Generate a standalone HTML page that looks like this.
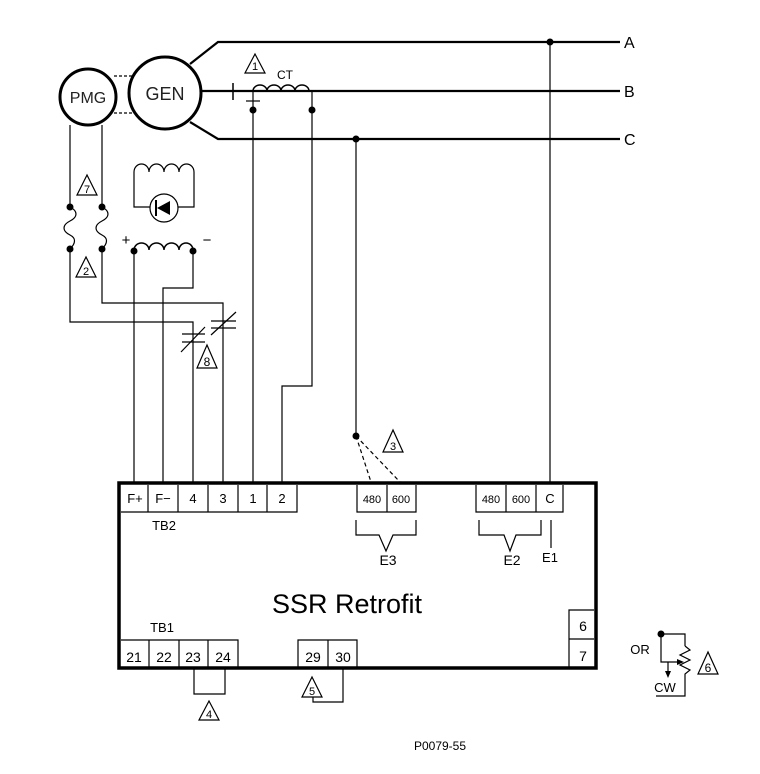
<!DOCTYPE html>
<html><head><style>html,body{margin:0;padding:0;background:#fff}svg{display:block}</style></head><body>
<svg width="760" height="774" viewBox="0 0 760 774" xmlns="http://www.w3.org/2000/svg" font-family="Liberation Sans, sans-serif">
<g fill="none" stroke="#000" stroke-width="1.2">
<polyline points="190,64 218,42 620,42" stroke-width="2.2"/>
<line x1="201" y1="91" x2="620" y2="91" stroke-width="2.2"/>
<polyline points="190,122 218,139 620,139" stroke-width="2.2"/>
<circle cx="88" cy="97" r="28" stroke-width="3"/>
<circle cx="165" cy="93" r="36" stroke-width="3"/>
<line x1="114" y1="76" x2="134" y2="76" stroke-dasharray="3,2"/>
<line x1="114" y1="113" x2="134" y2="113" stroke-dasharray="3,2"/>
<line x1="233" y1="83" x2="233" y2="100" stroke-width="1.5"/>
<path d="M253,91 a7,6 0 0 1 14,0 a7,6 0 0 1 14,0 a7,6 0 0 1 14,0 a7,6 0 0 1 14,0" stroke-width="1.5"/>
<line x1="246" y1="101" x2="260" y2="101"/>
<line x1="253" y1="91" x2="253" y2="482"/>
<polyline points="312,91 312,386 282,386 282,482"/>
<line x1="356" y1="139" x2="356" y2="436"/>
<line x1="356" y1="436" x2="371" y2="482" stroke-dasharray="4,3"/>
<line x1="356" y1="436" x2="400" y2="482" stroke-dasharray="4,3"/>
<line x1="550" y1="42" x2="550" y2="484"/>
<line x1="70" y1="125" x2="70" y2="207"/>
<line x1="102" y1="125" x2="102" y2="207"/>
<path d="M70,207 c8,4 8,10 0,14 c-8,4 -8,10 0,14 c6,3 6,8 0,14"/>
<path d="M102,207 c8,4 8,10 0,14 c-8,4 -8,10 0,14 c6,3 6,8 0,14"/>
<polyline points="70,249 70,322 193,322 193,482"/>
<polyline points="102,249 102,303 223,303 223,482"/>
<line x1="182" y1="334" x2="205" y2="334"/><line x1="182" y1="342" x2="205" y2="342"/><line x1="181" y1="352" x2="205" y2="327"/>
<line x1="211" y1="321" x2="236" y2="321"/><line x1="211" y1="328" x2="236" y2="328"/><line x1="211" y1="335" x2="236" y2="312"/>
<path d="M134,207 L134,172 a7.5,8 0 0 1 15,0 a7.5,8 0 0 1 15,0 a7.5,8 0 0 1 15,0 a7.5,8 0 0 1 15,0 L194,207 Z"/>
<circle cx="164" cy="208" r="14" fill="#fff"/>
<path d="M134,250 a7.5,7 0 0 1 15,0 a7.5,7 0 0 1 15,0 a7.5,7 0 0 1 15,0 a7,7 0 0 1 14,0" stroke-width="1.5"/>
<line x1="134" y1="250" x2="134" y2="482"/>
<polyline points="193,250 193,288 163,288 163,482"/>
<rect x="119" y="483" width="477" height="185" stroke-width="3.5"/>
<polyline points="121,512 297,512 297,485"/>
<line x1="148" y1="485" x2="148" y2="512"/><line x1="178" y1="485" x2="178" y2="512"/><line x1="208" y1="485" x2="208" y2="512"/><line x1="238" y1="485" x2="238" y2="512"/><line x1="267" y1="485" x2="267" y2="512"/>
<polyline points="357,485 357,512 416,512 416,485"/><line x1="387" y1="485" x2="387" y2="512"/>
<polyline points="356,520 356,535 379,535 386,551 393,535 416,535 416,520"/>
<polyline points="476,485 476,512 563,512 563,485"/><line x1="506" y1="485" x2="506" y2="512"/><line x1="536" y1="485" x2="536" y2="512"/>
<polyline points="479,520 479,535 504,535 510,551 516,535 541,535 541,520"/>
<line x1="551" y1="520" x2="551" y2="548"/>
<polyline points="121,640 238,640 238,667"/>
<line x1="149" y1="640" x2="149" y2="667"/><line x1="179" y1="640" x2="179" y2="667"/><line x1="208" y1="640" x2="208" y2="667"/>
<polyline points="298,667 298,640 357,640 357,667"/><line x1="328" y1="640" x2="328" y2="667"/>
<polyline points="594,610 569,610 569,667"/><line x1="569" y1="639" x2="594" y2="639"/>
<polyline points="194,669 194,694 225,694 225,669"/>
<polyline points="343,669 343,702 313,702 313,697"/>
<polyline points="661,634 685,634 685,646"/>
<path d="M685,646 l5,4 l-10,5 l10,5 l-10,5 l10,5 l-5,4 L685,696 L656,696"/>
<polyline points="661,634 661,662 678,662"/>
<line x1="668" y1="662" x2="668" y2="674"/>
<polygon points="255,54 245,73 265,73"/>
<polygon points="87,175 77,195 97,195"/>
<polygon points="86,257 76,277 96,277"/>
<polygon points="207,345 197,368 217,368"/>
<polygon points="393,430 383,452 403,452"/>
<polygon points="209,701 199,720 219,720"/>
<polygon points="312,677 302,697 322,697"/>
<polygon points="708,652 698,674 718,674"/>
</g>
<g fill="#000">
<circle cx="550" cy="42" r="3.5"/><circle cx="356" cy="139" r="3.5"/>
<circle cx="253" cy="110" r="3.5"/><circle cx="312" cy="110" r="3.5"/>
<circle cx="356" cy="436" r="3.5"/>
<circle cx="70" cy="207" r="3.5"/><circle cx="102" cy="207" r="3.5"/>
<circle cx="70" cy="249" r="3.5"/><circle cx="102" cy="249" r="3.5"/>
<circle cx="134" cy="251" r="3.5"/><circle cx="193" cy="251" r="3.5"/>
<circle cx="661" cy="634" r="3.5"/>
<polygon points="157,208 170,201 170,215"/>
<rect x="155" y="200" width="2" height="16"/>
<polygon points="684,662 677,659 677,665"/>
<polygon points="668,678 665,671 671,671"/>
</g>
<g font-size="16">
<text x="88" y="103" font-size="16" text-anchor="middle" fill="#222">PMG</text>
<text x="165" y="100" font-size="18" text-anchor="middle" fill="#222">GEN</text>
<text x="624" y="48">A</text><text x="624" y="97">B</text><text x="624" y="145">C</text>
</g>
<g font-size="12" text-anchor="middle">
<text x="285" y="79">CT</text>
<text x="255" y="70" font-size="11">1</text>
<text x="87" y="193" font-size="11">7</text>
<text x="86" y="275" font-size="11">2</text>
<text x="207" y="366" font-size="12">8</text>
<text x="393" y="450" font-size="11">3</text>
<text x="209" y="718" font-size="11">4</text>
<text x="312" y="695" font-size="11">5</text>
<text x="708" y="672" font-size="12">6</text>
<text x="126" y="245" font-size="15">+</text>
<text x="207" y="245" font-size="15">−</text>
<text x="135" y="503" font-size="13">F+</text><text x="163" y="503" font-size="13">F−</text>
<text x="193" y="503" font-size="13">4</text><text x="223" y="503" font-size="13">3</text>
<text x="253" y="503" font-size="13">1</text><text x="282" y="503" font-size="13">2</text>
<text x="372" y="503" font-size="11">480</text><text x="401" y="503" font-size="11">600</text>
<text x="491" y="503" font-size="11">480</text><text x="521" y="503" font-size="11">600</text><text x="550" y="503" font-size="13">C</text>
<text x="164" y="530" font-size="13">TB2</text>
<text x="388" y="565" font-size="14">E3</text><text x="512" y="565" font-size="14">E2</text><text x="550" y="562" font-size="13">E1</text>
<text x="162" y="632" font-size="13">TB1</text>
<text x="134" y="662" font-size="14">21</text><text x="164" y="662" font-size="14">22</text><text x="193" y="662" font-size="14">23</text><text x="223" y="662" font-size="14">24</text>
<text x="313" y="662" font-size="14">29</text><text x="343" y="662" font-size="14">30</text>
<text x="583" y="631" font-size="14">6</text><text x="583" y="661" font-size="14">7</text>
<text x="347" y="613" font-size="27">SSR Retrofit</text>
<text x="640" y="654" font-size="13">OR</text>
<text x="665" y="692" font-size="13">CW</text>
<text x="440" y="750" font-size="12">P0079-55</text>
</g>
</svg>
</body></html>
